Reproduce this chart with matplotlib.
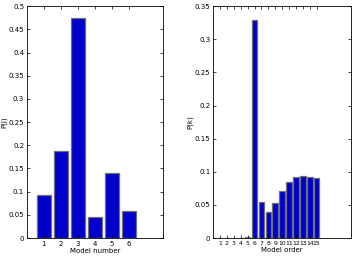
import matplotlib
matplotlib.use("Agg")
import matplotlib.pyplot as plt

model_number = [1, 2, 3, 4, 5, 6]
p_j = [0.092, 0.188, 0.474, 0.046, 0.140, 0.059]

model_order = list(range(1, 16))
p_k = [0.0, 0.0, 0.0, 0.0, 0.001, 0.329, 0.054, 0.040, 0.053, 0.071,
       0.085, 0.092, 0.093, 0.092, 0.090]

fig = plt.figure(figsize=(3.54, 2.56), dpi=100)
fs = 5

ax1 = fig.add_axes([0.076, 0.07, 0.384, 0.906])
ax1.bar(model_number, p_j, width=0.8, color='#0000CC', edgecolor='#707070', linewidth=0.9)
ax1.set_xlim(0, 8)
ax1.set_ylim(0, 0.5)
ax1.set_xticks(model_number)
ax1.set_yticks([0, 0.05, 0.1, 0.15, 0.2, 0.25, 0.3, 0.35, 0.4, 0.45, 0.5])
ax1.set_yticklabels(['0', '0.05', '0.1', '0.15', '0.2', '0.25', '0.3', '0.35', '0.4', '0.45', '0.5'])
ax1.set_xlabel('Model number', fontsize=fs, labelpad=1)
ax1.set_ylabel('P(j)', fontsize=fs, labelpad=1)

ax2 = fig.add_axes([0.602, 0.07, 0.390, 0.906])
ax2.bar(model_order, p_k, width=0.8, color='#0000CC', edgecolor='#707070', linewidth=0.9)
ax2.set_xlim(0, 20)
ax2.set_ylim(0, 0.35)
ax2.set_xticks(model_order)
ax2.set_yticks([0, 0.05, 0.1, 0.15, 0.2, 0.25, 0.3, 0.35])
ax2.set_yticklabels(['0', '0.05', '0.1', '0.15', '0.2', '0.25', '0.3', '0.35'])
ax2.set_xlabel('Model order', fontsize=fs, labelpad=1)
ax2.set_ylabel('P(k)', fontsize=fs, labelpad=1)

for ax in (ax1, ax2):
    ax.tick_params(direction='in', top=True, right=True, labelsize=fs, length=2, width=0.5, pad=2)
    for s in ax.spines.values():
        s.set_linewidth(0.6)
ax2.tick_params(axis='x', labelsize=4.4)

fig.savefig('out.png', dpi=100)
